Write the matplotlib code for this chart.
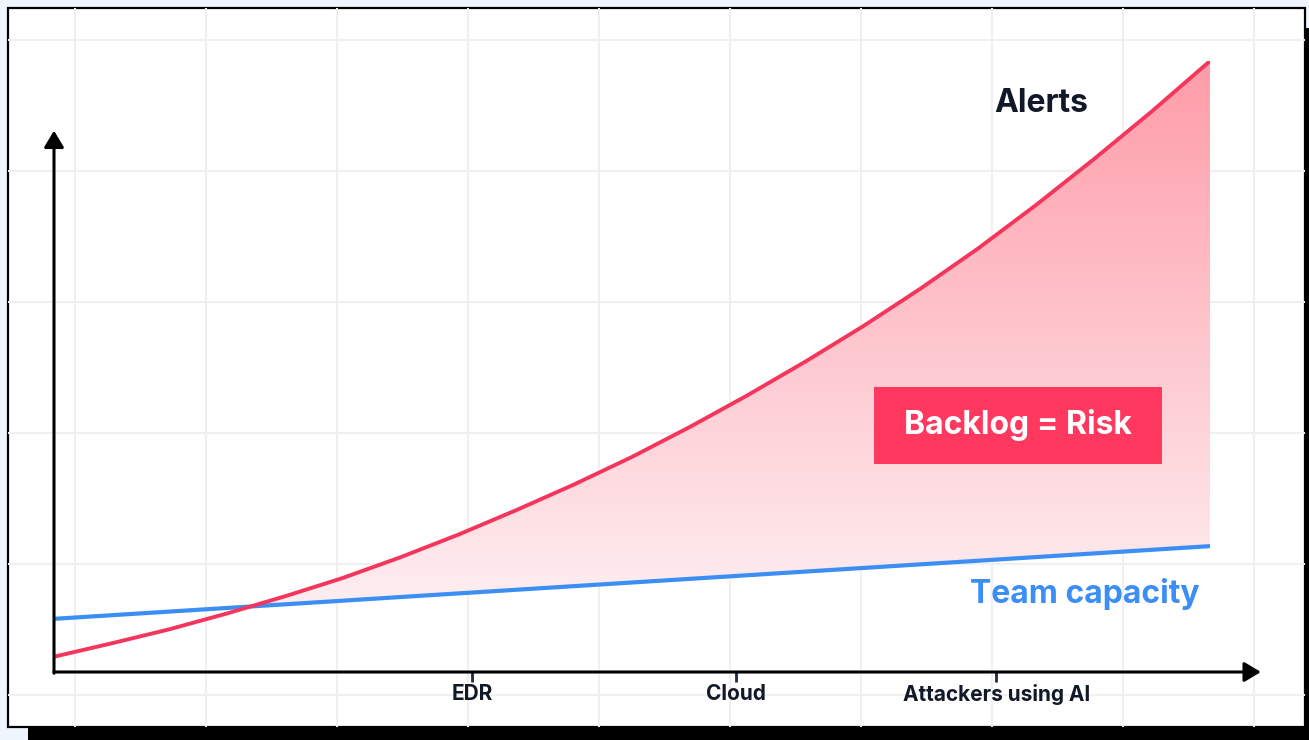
import numpy as np
import matplotlib.pyplot as plt
from matplotlib.patches import Rectangle, Polygon
from matplotlib.colors import LinearSegmentedColormap

plt.rcParams['font.family'] = ['Inter', 'DejaVu Sans']

# Alerts curve, x in arbitrary time units 0..10
alert_x = [0, 0.5, 1.0, 1.5, 2.0, 2.5, 3.0, 3.5, 4.0, 4.5, 5.0,
           5.5, 6.0, 6.5, 7.0, 7.5, 8.0, 8.5, 9.0, 9.5, 10]
alert_y = [2.5, 4.7, 7.0, 9.6, 12.4, 15.4, 18.8, 22.5, 26.5, 30.7, 35.2,
           40.1, 45.3, 50.8, 56.6, 62.8, 69.4, 76.5, 84.0, 91.8, 100]

# Team capacity line
team_x = [0, 10]
team_y = [8.7, 20.6]

tick_pos = [3.62, 5.9, 8.15]
tick_labels = ['EDR', 'Cloud', 'Attackers using AI']

RED = '#f5365c'
BLUE = '#3b8ef3'
INK = '#111827'

W, H = 1309, 740
fig = plt.figure(figsize=(W / 100, H / 100), dpi=100)
fig.patch.set_facecolor('#eef5fd')

# background card, shadow and grid in pixel coordinates
bg = fig.add_axes([0, 0, 1, 1])
bg.set_xlim(0, W)
bg.set_ylim(H, 0)
bg.axis('off')
bg.add_patch(Rectangle((28, 28), 1297, 719, facecolor='black', edgecolor='none'))
bg.add_patch(Rectangle((8, 8), 1297, 719, facecolor='white', edgecolor='black', lw=1.6))
for gx in np.arange(75, 1305, 131):
    bg.plot([gx, gx], [9, 726], color='#f0f0f0', lw=1.5, zorder=1)
for gy in np.arange(40, 727, 131):
    bg.plot([9, 1304], [gy, gy], color='#f0f0f0', lw=1.5, zorder=1)

# main chart axes: x 0 -> px 54, x 10 -> px 1210 ; y 0 -> px 672, y 100 -> px 61
x0, x1, y0, y1 = 54, 1210, 672, 61
ax = fig.add_axes([x0 / W, (H - y0) / H, (x1 - x0) / W, (y0 - y1) / H])
ax.set_xlim(0, 10)
ax.set_ylim(0, 100)
ax.patch.set_alpha(0)
for s in ax.spines.values():
    s.set_visible(False)

# fill region: between alerts and team capacity where alerts are higher
rx = np.array(alert_x, dtype=float)
ry = np.array(alert_y, dtype=float)
diff = ry - np.interp(rx, team_x, team_y)
i = np.argmax(diff > 0)
t = -diff[i - 1] / (diff[i] - diff[i - 1])
cx = rx[i - 1] + t * (rx[i] - rx[i - 1])
cy = np.interp(cx, team_x, team_y)
fx = np.concatenate([[cx], rx[i:]])
fy = np.concatenate([[cy], ry[i:]])
blue_ends = np.interp([fx[-1], cx], team_x, team_y)
poly_pts = np.vstack([np.column_stack([fx, fy]),
                      np.column_stack([[fx[-1], cx], blue_ends])])
poly = Polygon(poly_pts, closed=True, facecolor='none', edgecolor='none')
ax.add_patch(poly)

cmap = LinearSegmentedColormap.from_list('risk', ['#fdf1f3', '#ff9ca9'])
grad = np.linspace(0, 1, 256).reshape(-1, 1)
im = ax.imshow(grad, cmap=cmap, origin='lower', aspect='auto',
               extent=[0, 10, 8, 100], zorder=2)
im.set_clip_path(poly)

ax.plot(team_x, team_y, color=BLUE, lw=3, zorder=4, solid_capstyle='butt')
ax.plot(alert_x, alert_y, color=RED, lw=2.8, zorder=5, solid_capstyle='round',
        solid_joinstyle='round')

# axis arrows
arrow = dict(arrowstyle='-|>,head_length=1.0,head_width=0.6', lw=2.2,
             color='black', mutation_scale=10, shrinkA=0, shrinkB=0)
ax.annotate('', xy=(10.44, 0), xytext=(0, 0), arrowprops=arrow,
            annotation_clip=False, zorder=6)
ax.annotate('', xy=(0, 88.6), xytext=(0, -0.2), arrowprops=arrow,
            annotation_clip=False, zorder=6)

ax.set_xticks(tick_pos)
ax.set_xticklabels(tick_labels, fontsize=15, fontweight='bold', color=INK)
ax.tick_params(axis='x', length=7, width=2, color='#1f2937', pad=1.5)
ax.set_yticks([])

ax.text(8.54, 93.0, 'Alerts', fontsize=23, fontweight='bold', color=INK,
        ha='center', va='center')
ax.text(8.92, 12.7, 'Team capacity', fontsize=23, fontweight='bold',
        color=BLUE, ha='center', va='center')

# "Backlog = Risk" label box
ax.add_patch(Rectangle((7.09, 34.0), 2.495, 12.6, facecolor='#fe385e',
                       edgecolor='none', zorder=7))
ax.text(8.34, 40.4, 'Backlog = Risk', fontsize=23, fontweight='bold',
        color='white', ha='center', va='center', zorder=8)

fig.savefig('out.png', dpi=100, facecolor=fig.get_facecolor())
